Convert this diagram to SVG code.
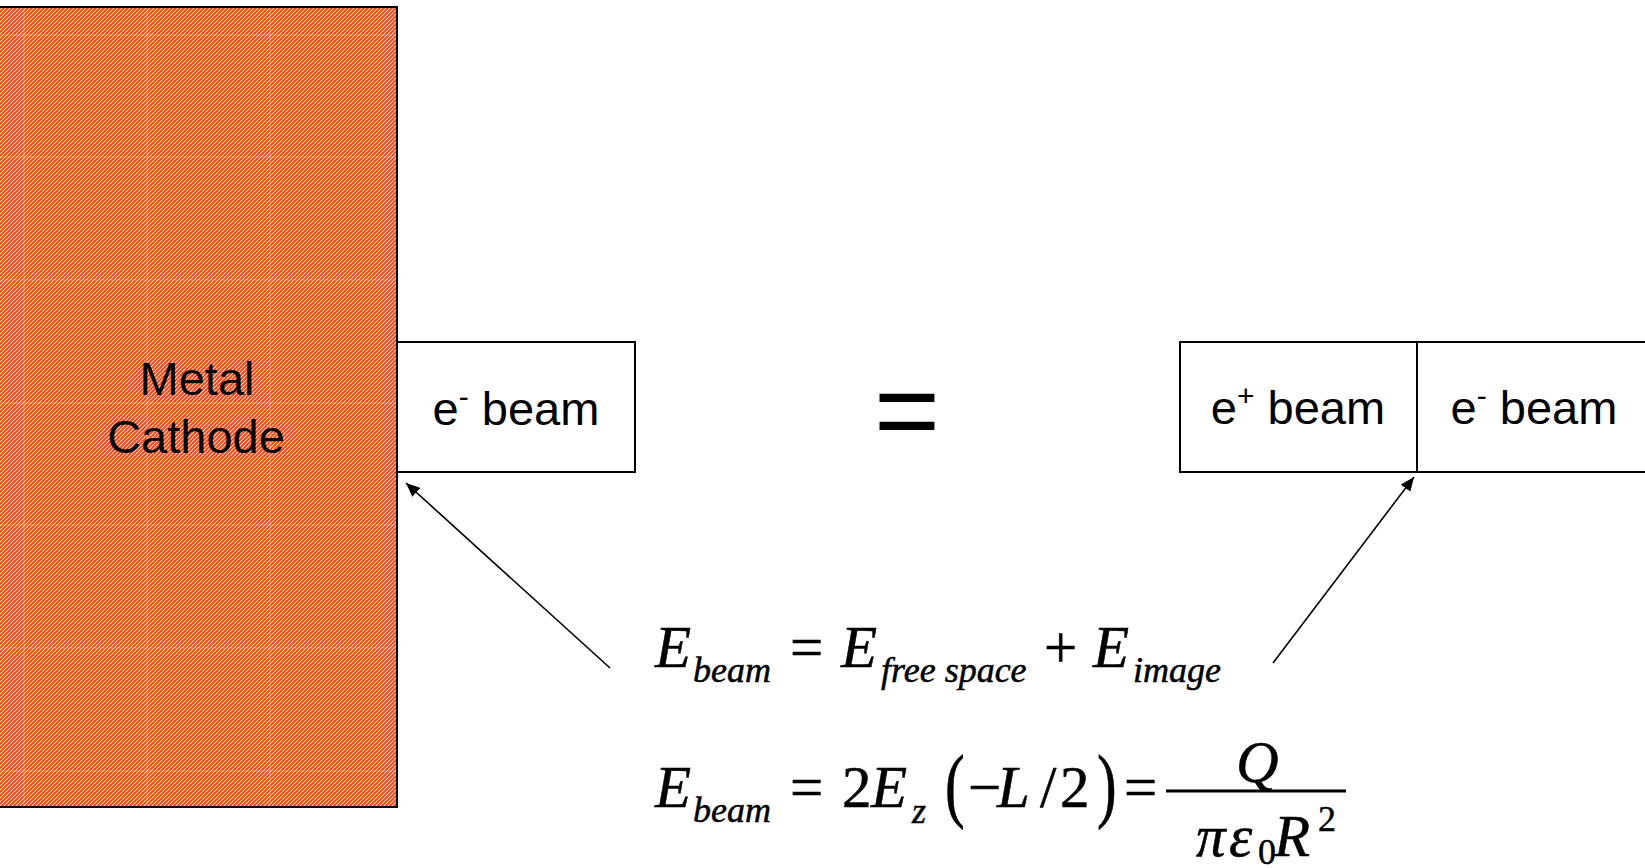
<svg xmlns="http://www.w3.org/2000/svg" width="1645" height="868" viewBox="0 0 1645 868">
  <style>
    .lbl { font-family: "Liberation Sans", Arial, sans-serif; font-size: 47px; fill: #000; }
    .box { fill: #fff; stroke: #000; stroke-width: 2; }
    .m { font-family: "Liberation Serif", "Times New Roman", serif; fill: #000; stroke: #000; stroke-width: 0.5; }
    .mi { font-family: "Liberation Serif", "Times New Roman", serif; font-style: italic; fill: #000; stroke: #000; stroke-width: 0.5; }
    .big { font-size: 59px; }
    .sub { font-size: 36px; }
    .conn { stroke: #000; stroke-width: 1.6; fill: none; marker-end: url(#arrow); }
  </style>
  <defs>
    <pattern id="hatch" patternUnits="userSpaceOnUse" width="4" height="4">
      <rect width="4" height="4" fill="#ffe8e0"/>
      <path d="M-1,1 L1,-1 M0,4 L4,0 M3,5 L5,3" stroke="#ff3a06" stroke-width="1.9"/>
    </pattern>
    <marker id="arrow" viewBox="0 0 14 12" refX="14" refY="6" markerWidth="14" markerHeight="12" markerUnits="userSpaceOnUse" orient="auto">
      <path d="M0,0 L14,6 L0,12 Z" fill="#000"/>
    </marker>
  </defs>

  <g id="cathode">
    <rect x="-3" y="7" width="400" height="800" fill="url(#hatch)" stroke="#000" stroke-width="2"/>
    <g stroke="#fff" stroke-width="1" opacity="0.3">
      <line x1="24" y1="8" x2="24" y2="806"/>
      <line x1="147" y1="8" x2="147" y2="806"/>
      <line x1="270" y1="8" x2="270" y2="806"/>
      <line x1="0" y1="35" x2="396" y2="35"/>
      <line x1="0" y1="157" x2="396" y2="157"/>
      <line x1="0" y1="280" x2="396" y2="280"/>
      <line x1="0" y1="403" x2="396" y2="403"/>
      <line x1="0" y1="525" x2="396" y2="525"/>
      <line x1="0" y1="648" x2="396" y2="648"/>
      <line x1="0" y1="771" x2="396" y2="771"/>
    </g>
    <text class="lbl" text-anchor="middle"><tspan x="197" y="395">Metal</tspan><tspan x="196" y="453">Cathode</tspan></text>
  </g>

  <g id="e-beam-left">
    <rect class="box" x="397" y="342" width="238" height="130"/>
    <text class="lbl" x="516" y="425" text-anchor="middle">e<tspan font-size="30" dy="-18">-</tspan><tspan dy="18"> beam</tspan></text>
  </g>

  <g id="equals">
    <text x="907" y="449" text-anchor="middle" font-family="Liberation Sans, Arial, sans-serif" font-size="113">=</text>
  </g>

  <g id="e-plus-beam">
    <rect class="box" x="1180" y="342" width="237" height="130"/>
    <text class="lbl" x="1298" y="424" text-anchor="middle">e<tspan font-size="30" dy="-18">+</tspan><tspan dy="18"> beam</tspan></text>
  </g>

  <g id="e-minus-beam-right">
    <rect class="box" x="1417" y="342" width="240" height="130"/>
    <text class="lbl" x="1534" y="424" text-anchor="middle">e<tspan font-size="30" dy="-18">-</tspan><tspan dy="18"> beam</tspan></text>
  </g>

  <g id="connectors">
    <line class="conn" x1="610" y1="668" x2="406" y2="483"/>
    <line class="conn" x1="1273" y1="663" x2="1414" y2="477"/>
  </g>

  <g id="equation1">
    <text class="mi big" x="655" y="667">E</text>
    <text class="mi sub" x="693" y="682">beam</text>
    <text class="m big" x="790" y="667">=</text>
    <text class="mi big" x="841" y="667">E</text>
    <text class="mi sub" x="881" y="682">free space</text>
    <text class="m big" x="1044" y="667">+</text>
    <text class="mi big" x="1093" y="667">E</text>
    <text class="mi sub" x="1133" y="682">image</text>
  </g>

  <g id="equation2">
    <text class="mi big" x="655" y="807">E</text>
    <text class="mi sub" x="693" y="822">beam</text>
    <text class="m big" x="790" y="807">=</text>
    <text class="m big" x="842" y="807">2</text>
    <text class="mi big" x="871" y="807">E</text>
    <text class="mi sub" x="912" y="823">z</text>
    <text class="m big" transform="translate(945,812) scale(1,1.4)">(</text>
    <text class="m big" x="968" y="807">−</text>
    <text class="mi big" x="997" y="807">L</text>
    <text class="m big" x="1040" y="807">/</text>
    <text class="m big" x="1060" y="807">2</text>
    <text class="m big" transform="translate(1097,812) scale(1,1.4)">)</text>
    <text class="m big" x="1124" y="807">=</text>
    <line x1="1166" y1="791" x2="1346" y2="791" stroke="#000" stroke-width="3"/>
    <text class="mi big" x="1236" y="782" font-size="66">Q</text>
    <text class="mi big" x="1196" y="856">π</text>
    <text class="mi big" x="1229" y="856">ε</text>
    <text class="m sub" x="1258" y="864">0</text>
    <text class="mi big" x="1274" y="856">R</text>
    <text class="m sub" x="1318" y="831">2</text>
  </g>
</svg>
